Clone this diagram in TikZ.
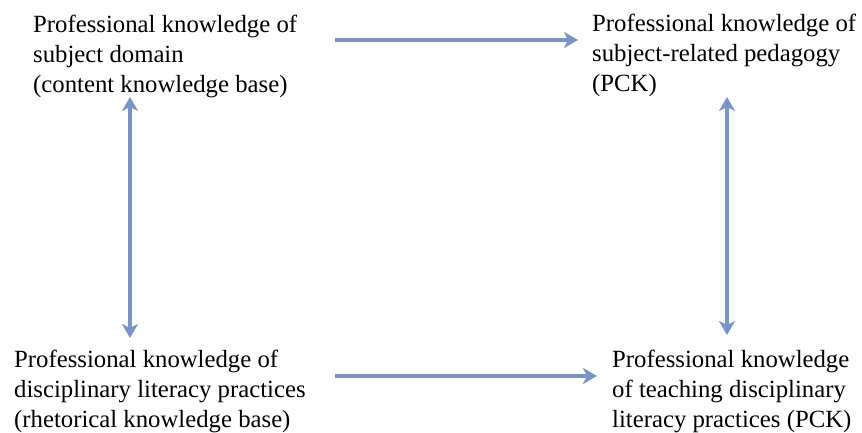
\documentclass[tikz,border=0pt]{standalone}
\usepackage{fontspec}
\setmainfont{Liberation Serif}
\usetikzlibrary{arrows.meta}
\definecolor{linkblue}{RGB}{122,148,200}
\begin{document}
\begin{tikzpicture}[x=1pt,y=-1pt,
  know/.style={anchor=north west,align=left,inner sep=0pt,font=\fontsize{24.75}{30}\selectfont},
  link/.style={draw=linkblue,line width=3.5pt,-{Stealth[length=14pt,width=16pt,inset=4pt]}},
  twoway/.style={link,{Stealth[length=14pt,width=16pt,inset=4pt]}-{Stealth[length=14pt,width=16pt,inset=4pt]}}]
\useasboundingbox (0,0) rectangle (862,432);
\node[know] (content) at (33,15) {Professional knowledge of\\subject domain\\(content knowledge base)};
\node[know] (pedagogy) at (592,14) {Professional knowledge of\\subject-related pedagogy\\(PCK)};
\node[know] (rhetoric) at (14,350) {Professional knowledge of\\disciplinary literacy practices\\(rhetorical knowledge base)};
\node[know] (teaching) at (612,350) {Professional knowledge\\of teaching disciplinary\\literacy practices (PCK)};
\coordinate (content-out) at (335,40);
\coordinate (pedagogy-in) at (578,40);
\coordinate (rhetoric-out) at (335,376);
\coordinate (teaching-in) at (597,376);
\coordinate (content-down) at (130,97);
\coordinate (rhetoric-up) at (130,338);
\coordinate (pedagogy-down) at (727,97);
\coordinate (teaching-up) at (727,335);
\draw[link] (content-out) -- (pedagogy-in);
\draw[link] (rhetoric-out) -- (teaching-in);
\draw[twoway] (content-down) -- (rhetoric-up);
\draw[twoway] (pedagogy-down) -- (teaching-up);
\end{tikzpicture}
\end{document}
